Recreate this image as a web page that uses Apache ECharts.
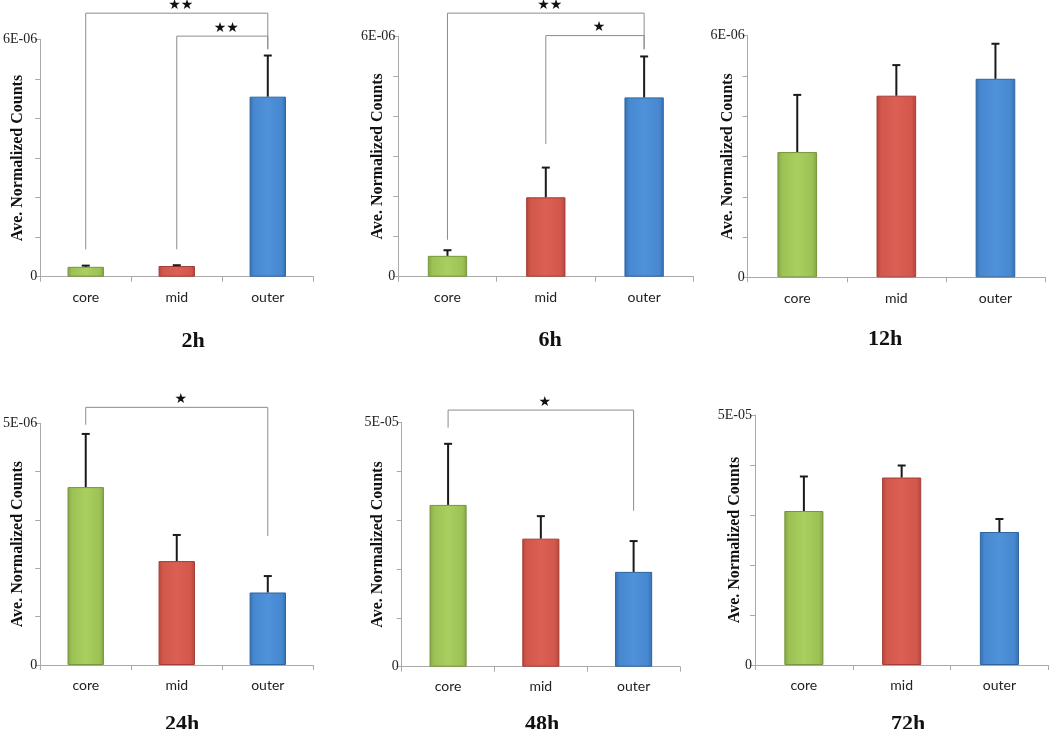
<!DOCTYPE html>
<html>
<head>
<meta charset="utf-8">
<script src="https://cdn.jsdelivr.net/npm/echarts@6/dist/echarts.min.js"></script>
<style>html,body{margin:0;padding:0;background:#fff}#c{width:1050px;height:729px}</style>
</head>
<body>
<div id="c"></div>
<script>
// ---- data ----
const categories = ['core', 'mid', 'outer'];
const panelTitles = ['2h', '6h', '12h', '24h', '48h', '72h'];
const yMaxLabels = ['6E-06', '6E-06', '6E-06', '5E-06', '5E-05', '5E-05'];
const yMax = [6e-6, 6e-6, 6e-6, 5e-6, 5e-5, 5e-5];
const yInterval = [1e-6, 1e-6, 1e-6, 1e-6, 1e-5, 1e-5];

const means2h = [0.25e-6, 0.27e-6, 4.55e-6];
const errs2h = [0.03e-6, 0.02e-6, 1.04e-6];
const means6h = [0.52e-6, 1.98e-6, 4.47e-6];
const errs6h = [0.14e-6, 0.74e-6, 1.02e-6];
const means12h = [3.11e-6, 4.51e-6, 4.93e-6];
const errs12h = [1.42e-6, 0.76e-6, 0.87e-6];
const means24h = [3.68e-6, 2.15e-6, 1.50e-6];
const errs24h = [1.10e-6, 0.54e-6, 0.34e-6];
const means48h = [3.31e-5, 2.62e-5, 1.94e-5];
const errs48h = [1.25e-5, 0.46e-5, 0.63e-5];
const means72h = [3.08e-5, 3.75e-5, 2.66e-5];
const errs72h = [0.69e-5, 0.24e-5, 0.26e-5];

// significance brackets: [fromIndex, toIndex, barY, leftLegEnd, rightLegEnd, stars]
const brackets2h = [[0, 2, 6.66e-6, 0.69e-6, 5.75e-6, '★★'], [1, 2, 6.08e-6, 0.69e-6, 5.75e-6, '★★']];
const brackets6h = [[0, 2, 6.57e-6, 0.92e-6, 5.67e-6, '★★'], [1, 2, 6.01e-6, 3.31e-6, 5.67e-6, '★']];
const brackets12h = [];
const brackets24h = [[0, 2, 5.33e-6, 4.97e-6, 2.67e-6, '★']];
const brackets48h = [[0, 2, 5.25e-5, 4.89e-5, 3.19e-5, '★']];
const brackets72h = [];

const allMeans = [means2h, means6h, means12h, means24h, means48h, means72h];
const allErrs = [errs2h, errs6h, errs12h, errs24h, errs48h, errs72h];
const allBrackets = [brackets2h, brackets6h, brackets12h, brackets24h, brackets48h, brackets72h];

// ---- layout / style ----
const grids = [
  {left: 40, top: 39.3, width: 273.3, height: 237.4},
  {left: 398.3, top: 36, width: 295, height: 240.7},
  {left: 747.7, top: 35.7, width: 297.3, height: 241.6},
  {left: 39.3, top: 423.3, width: 274, height: 241.7},
  {left: 401.7, top: 422.3, width: 278.3, height: 244.4},
  {left: 755, top: 415, width: 293.3, height: 250}
];
const titlePos = [[188, 336], [545, 335], [880, 334], [177, 719], [537, 719], [903, 719]];
const nameGaps = [14, 12, 12, 14, 16, 12];

function grad(dark, mid, light) {
  return new echarts.graphic.LinearGradient(0, 0, 1, 0, [
    {offset: 0, color: dark}, {offset: 0.12, color: mid}, {offset: 0.5, color: light},
    {offset: 0.88, color: mid}, {offset: 1, color: dark}
  ]);
}
const barColors = [
  {fill: () => grad('#83a545', '#9cc255', '#a9cf5f'), border: '#78963c'},
  {fill: () => grad('#b5453c', '#d2574c', '#dc5f53'), border: '#a53e36'},
  {fill: () => grad('#3470b0', '#4788d0', '#4f92da'), border: '#2f65a0'}
];
const axisGray = '#a9a9a9';

const option = {
  animation: false,
  backgroundColor: '#fff',
  grid: [], xAxis: [], yAxis: [], series: [], title: []
};

for (let p = 0; p < 6; p++) {
  option.grid.push(grids[p]);
  const bottomRow = p >= 3;
  option.xAxis.push({
    type: 'category', gridIndex: p, data: categories, boundaryGap: true,
    axisLine: {lineStyle: {color: axisGray, width: 1}},
    axisTick: {show: true, length: 5, alignWithLabel: false, lineStyle: {color: axisGray}},
    axisLabel: {margin: bottomRow ? 13 : 14, color: '#222', fontFamily: 'Lato', fontSize: 14},
    splitLine: {show: false}
  });
  const mx = yMax[p], lbl = yMaxLabels[p];
  option.yAxis.push({
    type: 'value', gridIndex: p, min: 0, max: mx, interval: yInterval[p],
    name: 'Ave. Normalized Counts', nameLocation: 'middle', nameRotate: 90, nameGap: nameGaps[p],
    nameMoveOverlap: false,
    nameTextStyle: {fontFamily: 'Liberation Serif', fontWeight: 'bold', fontSize: 16, color: '#111'},
    axisLine: {show: true, lineStyle: {color: axisGray, width: 1}},
    axisTick: {show: true, length: 5, lineStyle: {color: axisGray}},
    splitLine: {show: false},
    axisLabel: {
      margin: 3, color: '#222', fontFamily: 'Liberation Serif', fontSize: 14,
      formatter: function (v) {
        if (Math.abs(v) < mx * 1e-6) return '0';
        if (Math.abs(v - mx) < mx * 1e-6) return lbl;
        return '';
      }
    }
  });
  const means = allMeans[p], errs = allErrs[p], brs = allBrackets[p];
  option.series.push({
    type: 'bar', xAxisIndex: p, yAxisIndex: p, barWidth: '40%',
    data: means.map((v, i) => ({
      value: v,
      itemStyle: {color: barColors[i].fill(), borderColor: barColors[i].border, borderWidth: 1}
    })),
    z: 2
  });
  option.series.push({
    type: 'custom', xAxisIndex: p, yAxisIndex: p, z: 3,
    data: means.map((v, i) => [i, v, v + errs[i]]),
    encode: {x: 0, y: [1, 2]},
    renderItem: function (params, api) {
      const a = api.coord([api.value(0), api.value(1)]);
      const b = api.coord([api.value(0), api.value(2)]);
      const st = {stroke: '#1a1a1a', lineWidth: 2};
      return {type: 'group', children: [
        {type: 'line', shape: {x1: a[0], y1: a[1], x2: b[0], y2: b[1]}, style: st},
        {type: 'line', shape: {x1: b[0] - 4, y1: b[1], x2: b[0] + 4, y2: b[1]}, style: st}
      ]};
    }
  });
  if (brs.length) {
    option.series.push({
      type: 'custom', xAxisIndex: p, yAxisIndex: p, z: 1, clip: false,
      data: brs.map(b => [b[0], b[1], b[2], b[3], b[4]]),
      encode: {x: [0, 1], y: [2, 3, 4]},
      renderItem: function (params, api) {
        const b = brs[params.dataIndex];
        const L = api.coord([b[0], b[2]]);
        const R = api.coord([b[1], b[2]]);
        const Lb = api.coord([b[0], b[3]]);
        const Rb = api.coord([b[1], b[4]]);
        const st = {stroke: '#8c8c8c', lineWidth: 1, fill: null};
        return {type: 'group', children: [
          {type: 'polyline', shape: {points: [[Lb[0], Lb[1]], [L[0], L[1]], [R[0], R[1]], [Rb[0], Rb[1]]]}, style: st},
          {type: 'text', style: {
            text: b[5], x: (L[0] + R[0]) / 2 + 4, y: L[1] - 1,
            align: 'center', verticalAlign: 'bottom',
            fontSize: 14, fontFamily: 'DejaVu Sans', fill: '#111'
          }}
        ]};
      }
    });
  }
  option.title.push({
    text: panelTitles[p], left: titlePos[p][0], top: titlePos[p][1], textAlign: 'center', textVerticalAlign: 'middle',
    textStyle: {fontFamily: 'Liberation Serif', fontWeight: 'bold', fontSize: 22, color: '#111'}
  });
}

const chart = echarts.init(document.getElementById('c'), null, {renderer: 'canvas'});
chart.setOption(option);
</script>
</body>
</html>
